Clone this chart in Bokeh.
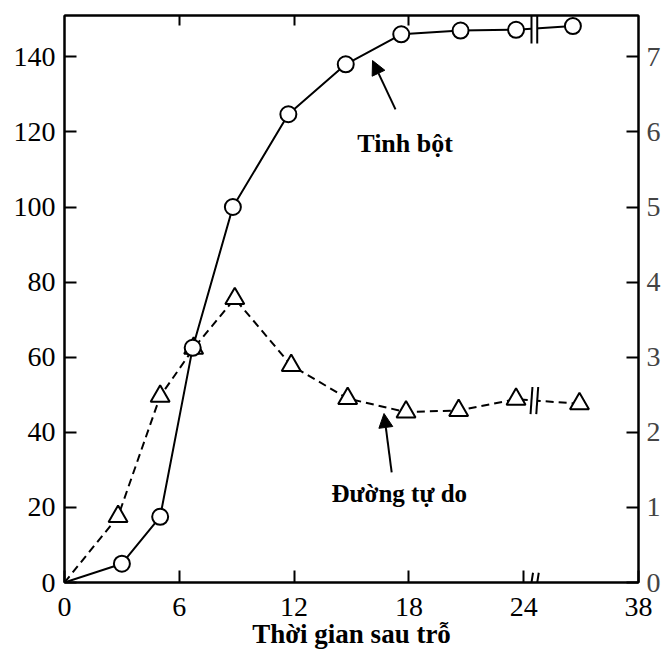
import numpy as np
from bokeh.plotting import figure
from bokeh.models import Range1d, LinearAxis, FixedTicker, Arrow, NormalHead
from bokeh.core.properties import value
from bokeh.embed import file_html
from bokeh.resources import INLINE

# ---- data (hours after heading; starch on left axis; free sugar on right axis) ----
starch_t = [0, 3, 5, 6.7, 8.8, 11.7, 14.7, 17.6, 20.7, 23.6, 30]
starch = [0, 5, 17.5, 62.5, 100, 124.7, 138, 146, 147, 147.2, 148.2]
sugar_t = [0, 2.8, 5, 6.75, 8.9, 11.85, 14.8, 17.85, 20.6, 23.6, 30.8]
sugar = [0, 0.88, 2.48, 3.12, 3.78, 2.89, 2.45, 2.27, 2.29, 2.44, 2.38]
x_ticks = [0, 6, 12, 18, 24, 38]
left_ticks = [0, 20, 40, 60, 80, 100, 120, 140]
right_ticks = [0, 1, 2, 3, 4, 5, 6, 7]
x_title = "Thời gian sau trỗ"
label_starch = "Tinh bột"
label_sugar = "Đường tự do"
break_t = 25.3


def brk(t):
    """Axis break after 24 h: the 24-38 h span is compressed."""
    t = np.asarray(t, dtype=float)
    return np.where(t <= 24, t, 24 + (t - 24) * 6.0 / 14.0)


FONT = "Liberation Serif"
Y_MAX = 151.0
SCALE = 20.0

p = figure(frame_width=574, frame_height=567, output_backend="svg",
           toolbar_location=None, x_range=Range1d(0, 30), y_range=Range1d(0, Y_MAX),
           min_border_left=64, min_border_top=15, min_border_right=0,
           min_border_bottom=0, background_fill_color="white")
p.extra_y_ranges = {"r": Range1d(0, Y_MAX / SCALE)}
p.xgrid.visible = False
p.ygrid.visible = False
p.outline_line_color = "black"
p.outline_line_width = 2

xd_ticks = [float(v) for v in brk(x_ticks)]
p.xaxis.ticker = FixedTicker(ticks=xd_ticks)
p.xaxis.major_label_overrides = {xd: str(t) for xd, t in zip(xd_ticks, x_ticks)}
p.yaxis.ticker = FixedTicker(ticks=left_ticks)

for ax in (p.xaxis[0], p.yaxis[0]):
    ax.axis_line_width = 2
    ax.major_tick_line_width = 2
    ax.major_tick_in = 12
    ax.major_tick_out = 0
    ax.minor_tick_line_color = None
    ax.major_label_text_font = FONT
    ax.major_label_text_font_size = "28px"
    ax.major_label_text_color = "black"
p.yaxis.major_label_standoff = 9
p.xaxis.major_label_standoff = 15
p.xaxis.axis_label = x_title
p.xaxis.axis_label_text_font = FONT
p.xaxis.axis_label_text_font_style = "bold"
p.xaxis.axis_label_text_font_size = "27px"
p.xaxis.axis_label_standoff = 0
p.xaxis.axis_label_text_color = "black"

right = LinearAxis(y_range_name="r", ticker=FixedTicker(ticks=right_ticks))
right.axis_line_width = 2
right.major_tick_line_width = 2
right.major_tick_in = 12
right.major_tick_out = 0
right.minor_tick_line_color = None
right.major_label_text_font = FONT
right.major_label_text_font_size = "28px"
right.major_label_standoff = 8
p.add_layout(right, "right")

top = LinearAxis(ticker=FixedTicker(ticks=xd_ticks[1:4]))
top.axis_line_width = 2
top.major_tick_line_width = 2
top.major_tick_in = 10
top.major_tick_out = 0
top.minor_tick_line_color = None
top.major_label_overrides = {v: "" for v in xd_ticks[1:4]}
top.major_label_text_font_size = "1px"
top.major_label_standoff = 0
p.add_layout(top, "above")

sx = brk(starch_t)
ux = brk(sugar_t)

# free sugar (dashed line, open triangles)
p.line(ux, sugar, y_range_name="r", line_color="black", line_width=2, line_dash="8 5")
p.scatter(ux[1:], sugar[1:], y_range_name="r", marker="triangle", size=19,
          fill_color="white", line_color="black", line_width=2)
# starch (solid line, open circles)
p.line(sx, starch, line_color="black", line_width=2)
p.scatter(sx[1:], starch[1:], marker="circle", size=16, fill_color="white",
          line_color="black", line_width=2)

# break marks on both curves and on the time axis
bx = float(brk(break_t))
by_s = float(np.interp(bx, sx, starch))
by_u = float(np.interp(bx, ux, sugar))
p.rect([bx], [by_s], width=0.3, height=4, fill_color="white", line_color=None)
p.rect([bx], [by_u], width=0.3, height=4 / SCALE, y_range_name="r",
       fill_color="white", line_color=None)
for dx in (-0.15, 0.15):
    p.add_layout(Arrow(x_start=bx + dx, y_start=by_s - 4, x_end=bx + dx, y_end=by_s + 4,
                       end=None, line_width=2, line_color="black"))
    p.add_layout(Arrow(x_start=bx + dx - 0.05, y_start=by_u - 0.18,
                       x_end=bx + dx + 0.05, y_end=by_u + 0.18, y_range_name="r",
                       end=None, line_width=2, line_color="black"))
    p.add_layout(Arrow(x_start=bx + dx - 0.08, y_start=-2.6, x_end=bx + dx + 0.08, y_end=2.6,
                       end=None, line_width=2, line_color="black"))

# curve labels with arrows
p.text([17.8], [117], text=[label_starch], text_font=value(FONT), text_font_style="bold",
       text_font_size="26px", text_align="center", text_baseline="middle", text_color="black")
p.text([17.5], [23.7], text=[label_sugar], text_font=value(FONT), text_font_style="bold",
       text_font_size="25px", text_align="center", text_baseline="middle", text_color="black")
p.add_layout(Arrow(x_start=17.3, y_start=126, x_end=16.1, y_end=139,
                   end=NormalHead(size=14, fill_color="black", line_color="black"),
                   line_width=2, line_color="black"))
p.add_layout(Arrow(x_start=17.1, y_start=29.3, x_end=16.7, y_end=45,
                   end=NormalHead(size=14, fill_color="black", line_color="black"),
                   line_width=2, line_color="black"))

open("out.html", "w").write(file_html(p, INLINE))
